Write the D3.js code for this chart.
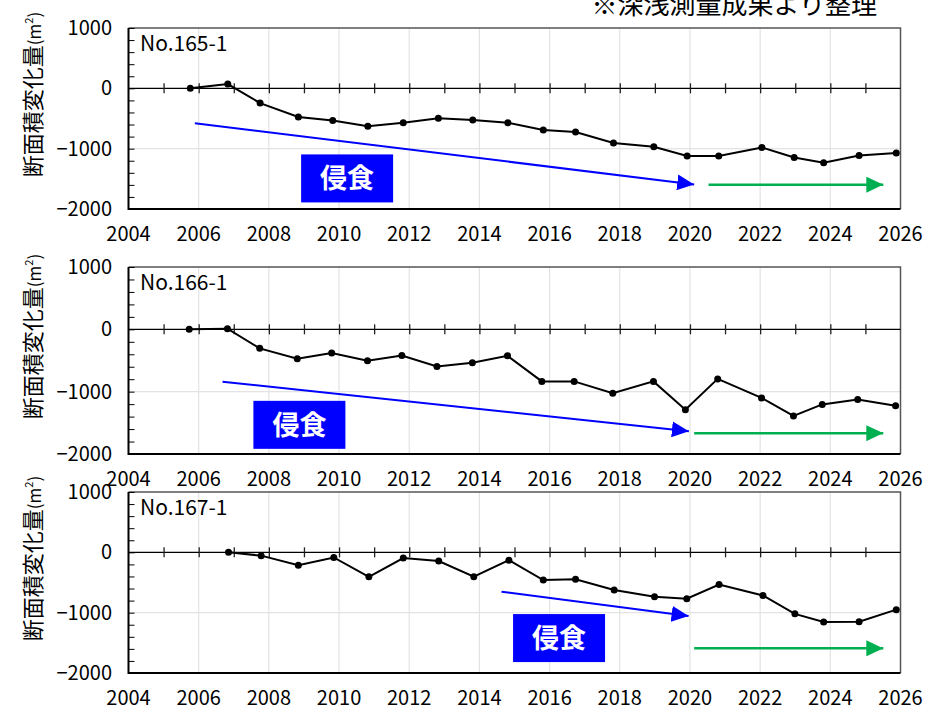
<!DOCTYPE html>
<html><head><meta charset="utf-8">
<script src="https://cdn.jsdelivr.net/npm/d3@7"></script>
<style>
body{margin:0;background:#fff;}
svg{display:block;font-family:"Noto Sans CJK JP","Noto Sans",sans-serif;}
</style></head><body>
<script>
// ---- data ----
const panelNames = ["No.165-1", "No.166-1", "No.167-1"];
const xTicks = [2004, 2006, 2008, 2010, 2012, 2014, 2016, 2018, 2020, 2022, 2024, 2026];
const yTicks = [1000, 0, -1000, -2000];
const caption = "※深浅測量成果より整理";
const yTitle = "断面積変化量";
const boxLabel = "侵食";

const years165 = [2005.76, 2006.83, 2007.75, 2008.84, 2009.82, 2010.82, 2011.83, 2012.83, 2013.81, 2014.81, 2015.82, 2016.74, 2017.82, 2018.97, 2019.92, 2020.82, 2022.05, 2022.97, 2023.81, 2024.82, 2025.88];
const values165 = [0, 70, -245, -475, -535, -630, -570, -495, -525, -570, -690, -725, -905, -970, -1120, -1120, -980, -1145, -1235, -1115, -1070];

const years166 = [2005.73, 2006.82, 2007.74, 2008.81, 2009.79, 2010.81, 2011.79, 2012.79, 2013.8, 2014.8, 2015.78, 2016.7, 2017.8, 2018.96, 2019.87, 2020.79, 2022.04, 2022.95, 2023.77, 2024.78, 2025.86];
const values166 = [0, 10, -305, -470, -380, -505, -420, -595, -535, -425, -835, -835, -1025, -835, -1290, -795, -1100, -1390, -1205, -1125, -1225];

const years167 = [2006.85, 2007.78, 2008.84, 2009.85, 2010.85, 2011.83, 2012.84, 2013.84, 2014.84, 2015.82, 2016.74, 2017.84, 2018.99, 2019.91, 2020.83, 2022.08, 2022.99, 2023.81, 2024.82, 2025.88];
const values167 = [0, -55, -215, -85, -405, -95, -145, -405, -130, -460, -445, -625, -735, -770, -535, -715, -1020, -1155, -1150, -950];

// trend arrows [x0, y0, x1, y1] in data units
const blueArrows = [[2005.89, -580, 2020.12, -1592], [2006.68, -839, 2019.97, -1634], [2014.63, -653, 2019.96, -1056]];
const greenArrows = [[2020.53, -1597, 2025.51, -1597], [2020.12, -1666, 2025.51, -1666], [2020.12, -1591, 2025.51, -1591]];
// label box centres [x, y] in data units
const boxCenters = [[2010.23, -1493], [2008.87, -1532], [2016.27, -1421]];

const seriesYears = [years165, years166, years167];
const seriesValues = [values165, values166, values167];

// ---- layout ----
const W = 943, H = 709;
const panelTops = [28, 267, 492];
const panelBottoms = [209, 454, 673];
const left = 128.5, right = 900.5;

const svg = d3.select("body").append("svg").attr("width", W).attr("height", H);

const defs = svg.append("defs");
function marker(id, color, len, half) {
  defs.append("marker").attr("id", id)
    .attr("markerUnits", "userSpaceOnUse")
    .attr("viewBox", `0 ${-half} ${len} ${2*half}`)
    .attr("refX", len).attr("refY", 0)
    .attr("markerWidth", len).attr("markerHeight", 2*half)
    .attr("orient", "auto")
    .append("path").attr("d", `M0,${-half}L${len},0L0,${half}Z`).attr("fill", color);
}
marker("headBlue", "#0000ff", 17, 8);
marker("headGreen", "#00b050", 17, 8);

svg.append("text").attr("x", 877).attr("y", 14).attr("text-anchor", "end")
  .attr("font-size", 26).attr("fill", "#000").text(caption);

panelNames.forEach((name, i) => {
  const top = panelTops[i], bottom = panelBottoms[i];
  const x = d3.scaleLinear().domain([2004, 2026]).range([left, right]);
  const y = d3.scaleLinear().domain([-2000, 1000]).range([bottom, top]);
  const g = svg.append("g");

  // gridlines
  g.append("g").selectAll("line").data(xTicks.slice(1, -1)).join("line")
    .attr("x1", d => x(d)).attr("x2", d => x(d)).attr("y1", top).attr("y2", bottom)
    .attr("stroke", "#e3e3e3").attr("stroke-width", 1.2);
  g.append("line").attr("x1", left).attr("x2", right).attr("y1", y(-1000)).attr("y2", y(-1000))
    .attr("stroke", "#e3e3e3").attr("stroke-width", 1.2);

  // frame: top/right grey
  g.append("path").attr("d", `M${left},${top}H${right}V${bottom}`)
    .attr("fill", "none").attr("stroke", "#555").attr("stroke-width", 1.5);
  g.append("path").attr("d", `M${left},${top}V${bottom}H${right}`)
    .attr("fill", "none").attr("stroke", "#000").attr("stroke-width", 2);

  // y axis (inner minor ticks every 200)
  const yAxis = d3.axisRight(y).tickValues(d3.range(-2000, 1001, 200)).tickSize(6).tickFormat("");
  const ya = g.append("g").attr("transform", `translate(${left},0)`).call(yAxis);
  ya.select(".domain").remove();
  ya.selectAll("line").attr("stroke", "#000").attr("stroke-width", 1);

  // y labels
  g.append("g").selectAll("text").data(yTicks).join("text")
    .attr("x", 112).attr("y", d => y(d)).attr("dy", "0.35em").attr("text-anchor", "end")
    .attr("font-size", 20).text(d => d3.format("")(d).replace("-", "\u2212"));

  // zero axis with crossing ticks
  const x0 = y(0);
  g.append("line").attr("x1", left).attr("x2", right).attr("y1", x0).attr("y2", x0)
    .attr("stroke", "#000").attr("stroke-width", 1.2);
  const xTop = d3.axisTop(x).tickValues(d3.range(2005, 2026, 1)).tickSize(5).tickFormat("");
  const xBot = d3.axisBottom(x).tickValues(d3.range(2005, 2026, 1)).tickSize(5).tickFormat("");
  [xTop, xBot].forEach(ax => {
    const a = g.append("g").attr("transform", `translate(0,${x0})`).call(ax);
    a.select(".domain").remove();
    a.selectAll("line").attr("stroke", "#222").attr("stroke-width", 1.3);
  });

  // x labels
  g.append("g").selectAll("text").data(xTicks).join("text")
    .attr("x", d => x(d)).attr("y", bottom + 32).attr("text-anchor", "middle")
    .attr("font-size", 20).text(d => d);

  // y title
  const cy = (top + bottom) / 2 - 24;
  const t = g.append("text").attr("transform", `translate(41,${cy}) rotate(-90)`)
    .attr("text-anchor", "middle").attr("font-size", 22);
  t.append("tspan").text(yTitle);
  t.append("tspan").attr("font-size", 17).text("(m");
  t.append("tspan").attr("font-size", 11).attr("dy", -8).text("2");
  t.append("tspan").attr("font-size", 17).attr("dy", 8).text(")");

  // panel name
  g.append("text").attr("x", 140).attr("y", top + 23).attr("font-size", 21).text(name);

  // arrows
  const b = blueArrows[i];
  g.append("line").attr("x1", x(b[0])).attr("y1", y(b[1])).attr("x2", x(b[2])).attr("y2", y(b[3]))
    .attr("stroke", "#0000ff").attr("stroke-width", 2).attr("marker-end", "url(#headBlue)");
  const gr = greenArrows[i];
  g.append("line").attr("x1", x(gr[0])).attr("y1", y(gr[1])).attr("x2", x(gr[2])).attr("y2", y(gr[3]))
    .attr("stroke", "#00b050").attr("stroke-width", 2.5).attr("marker-end", "url(#headGreen)");

  // label box
  const bc = boxCenters[i];
  g.append("rect").attr("x", x(bc[0]) - 46).attr("y", y(bc[1]) - 24).attr("width", 92).attr("height", 48)
    .attr("fill", "#0000ff");
  g.append("text").attr("x", x(bc[0])).attr("y", y(bc[1])).attr("dy", "0.36em")
    .attr("text-anchor", "middle").attr("font-size", 27).attr("font-weight", "bold")
    .attr("fill", "#fff").text(boxLabel);

  // series
  const pts = seriesYears[i].map((yr, k) => [yr, seriesValues[i][k]]);
  g.append("path").datum(pts)
    .attr("d", d3.line().x(d => x(d[0])).y(d => y(d[1])))
    .attr("fill", "none").attr("stroke", "#000").attr("stroke-width", 2);
  g.append("g").selectAll("circle").data(pts).join("circle")
    .attr("cx", d => x(d[0])).attr("cy", d => y(d[1])).attr("r", 3.5).attr("fill", "#000");
});
</script>
</body></html>
